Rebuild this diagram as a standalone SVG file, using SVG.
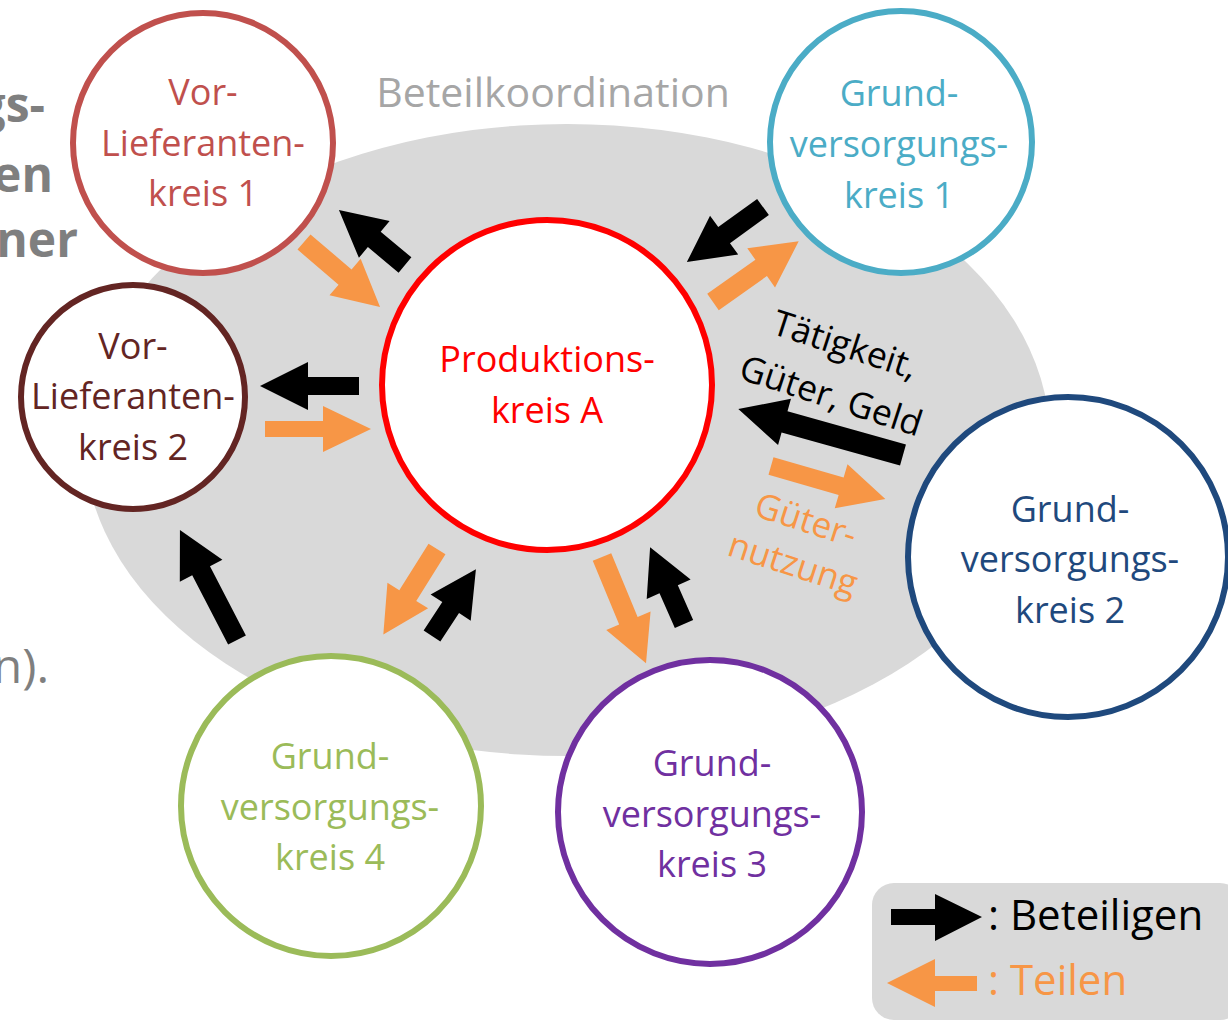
<svg xmlns="http://www.w3.org/2000/svg" width="1228" height="1022" viewBox="0 0 1228 1022">
<style>
text{font-family:"Open Sans","DejaVu Sans",sans-serif;text-anchor:middle}
.c{fill:#fff;stroke-width:6}
.t{font-size:36px}
.blk{fill:#000}
.org{fill:#F79646}
.frag{font-size:48px;fill:#7F7F7F;text-anchor:end}
</style>
<rect width="1228" height="1022" fill="#fff"/>
<g id="fragments">
<text class="frag" x="45" y="122" font-weight="bold">gs-</text>
<text class="frag" x="53" y="192" font-weight="bold">en</text>
<text class="frag" x="78" y="257" font-weight="bold">ner</text>
<text class="frag" x="49" y="683">n).</text>
</g>
<g id="beteilkoordination">
<ellipse cx="567" cy="440" rx="483" ry="316" fill="#D9D9D9"/>
<text x="553" y="107" font-size="41" fill="#A6A6A6">Beteilkoordination</text>
</g>
<g id="labels">
<g transform="translate(845,345) rotate(18)"><text y="12" font-size="35.5" fill="#000">Tätigkeit,</text></g>
<g transform="translate(831,396) rotate(18)"><text y="12" font-size="35.5" fill="#000">Güter, Geld</text></g>
<g transform="translate(806,520) rotate(18)"><text y="12" font-size="35" fill="#F79646">Güter-</text></g>
<g transform="translate(793,564) rotate(18)"><text y="12" font-size="35" fill="#F79646">nutzung</text></g>
</g>
<g id="produktionskreis">
<circle class="c" cx="547" cy="385" r="165" stroke="#FF0000"/>
<text class="t" fill="#FF0000" x="547" y="372">Produktions-</text>
<text class="t" fill="#FF0000" x="547" y="423">kreis A</text>
</g>
<g id="vl1">
<circle class="c" cx="203" cy="143" r="130" stroke="#C0504D"/>
<text class="t" fill="#C0504D" x="203" y="105">Vor-</text>
<text class="t" fill="#C0504D" x="203" y="156">Lieferanten-</text>
<text class="t" fill="#C0504D" x="203" y="206">kreis 1</text>
</g>
<g id="vl2">
<circle class="c" cx="133" cy="397" r="112" stroke="#632523"/>
<text class="t" fill="#632523" x="133" y="359">Vor-</text>
<text class="t" fill="#632523" x="133" y="409">Lieferanten-</text>
<text class="t" fill="#632523" x="133" y="460">kreis 2</text>
</g>
<g id="gv1">
<circle class="c" cx="901" cy="142" r="131" stroke="#4BACC6"/>
<text class="t" fill="#4BACC6" x="899" y="106">Grund-</text>
<text class="t" fill="#4BACC6" x="899" y="157">versorgungs-</text>
<text class="t" fill="#4BACC6" x="899" y="208">kreis 1</text>
</g>
<g id="gv2">
<circle class="c" cx="1068" cy="557" r="160" stroke="#1F497D"/>
<text class="t" fill="#1F497D" x="1070" y="522">Grund-</text>
<text class="t" fill="#1F497D" x="1070" y="572">versorgungs-</text>
<text class="t" fill="#1F497D" x="1070" y="623">kreis 2</text>
</g>
<g id="gv3">
<circle class="c" cx="710" cy="812" r="152" stroke="#7030A0"/>
<text class="t" fill="#7030A0" x="712" y="776">Grund-</text>
<text class="t" fill="#7030A0" x="712" y="827">versorgungs-</text>
<text class="t" fill="#7030A0" x="712" y="877">kreis 3</text>
</g>
<g id="gv4">
<circle class="c" cx="331" cy="806" r="150" stroke="#9BBB59"/>
<text class="t" fill="#9BBB59" x="330" y="769">Grund-</text>
<text class="t" fill="#9BBB59" x="330" y="820">versorgungs-</text>
<text class="t" fill="#9BBB59" x="330" y="870">kreis 4</text>
</g>
<g id="connectors">
<polygon class="blk" transform="translate(405,265) rotate(-140.2)" points="0,-10 40,-10 40,-24 86,0 40,24 40,10 0,10"/>
<polygon class="org" transform="translate(304,242) rotate(40.5)" points="0,-10 54,-10 54,-24 100,0 54,24 54,10 0,10"/>
<polygon class="blk" transform="translate(763,207) rotate(144.1)" points="0,-10 48,-10 48,-24 94,0 48,24 48,10 0,10"/>
<polygon class="org" transform="translate(713,302) rotate(-35.3)" points="0,-10 59,-10 59,-24 105,0 59,24 59,10 0,10"/>
<polygon class="blk" transform="translate(359,386) rotate(180)" points="0,-9 51,-9 51,-24 99,0 51,24 51,9 0,9"/>
<polygon class="org" transform="translate(265,429)" points="0,-8 58,-8 58,-23 106,0 58,23 58,8 0,8"/>
<polygon class="blk" transform="translate(237,640) rotate(-117.4)" points="0,-10 78,-10 78,-24 124,0 78,24 78,10 0,10"/>
<polygon class="org" transform="translate(437,549) rotate(122.1)" points="0,-10 55,-10 55,-24 101,0 55,24 55,10 0,10"/>
<polygon class="blk" transform="translate(432,636) rotate(-56.7)" points="0,-10 34,-10 34,-24 80,0 34,24 34,10 0,10"/>
<polygon class="org" transform="translate(602,557) rotate(67.5)" points="0,-10 69,-10 69,-24 115,0 69,24 69,10 0,10"/>
<polygon class="blk" transform="translate(684,624) rotate(-113.8)" points="0,-10 38,-10 38,-24 84,0 38,24 38,10 0,10"/>
<polygon class="blk" transform="translate(903,455) rotate(-164.4)" points="0,-11 123,-11 123,-24 171,0 123,24 123,11 0,11"/>
<polygon class="org" transform="translate(771,466) rotate(16.1)" points="0,-9 73,-9 73,-23 119,0 73,23 73,9 0,9"/>
</g>
<g id="legend">
<rect x="872" y="883" width="370" height="137" rx="22" fill="#D9D9D9"/>
<polygon class="blk" points="891,909 935,909 935,894 982,917 935,941 935,925 891,925"/>
<polygon class="org" points="977,976 935,976 935,959 887,983 935,1007 935,991 977,991"/>
<text x="988" y="930" font-size="42" fill="#000" style="text-anchor:start">: Beteiligen</text>
<text x="988" y="995" font-size="42" fill="#F79646" style="text-anchor:start">: Teilen</text>
</g>
</svg>
